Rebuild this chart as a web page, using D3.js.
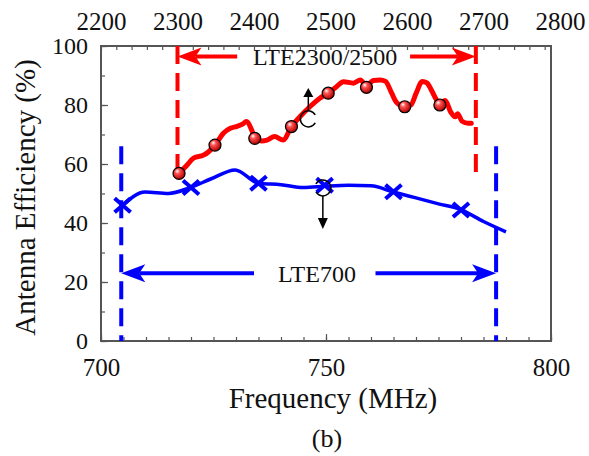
<!DOCTYPE html>
<html>
<head>
<meta charset="utf-8">
<script src="https://cdn.jsdelivr.net/npm/d3@7"></script>
<style>
  body { margin: 0; background: #fff; }
  text { font-family: "Liberation Serif", "Times New Roman", serif; fill: #111; }
</style>
</head>
<body>
<svg id="chart" width="589" height="456"></svg>
<script>
// LTE700 branch, read on the bottom axis (MHz)
const lowFreq = [704.8, 709.8, 715, 719.8, 724.5, 729.8, 735, 740, 745, 750, 755, 760, 765, 770, 775, 780, 785, 790];
const lowEff = [46, 50.5, 50, 52, 55, 58, 53.5, 53, 52, 52.5, 52.8, 52.6, 50.5, 48.5, 46.5, 44.5, 40.5, 37];
const lowMarkFreq = [704.8, 720, 735, 749.7, 765, 780];
const lowMarkEff = [46, 52, 53.5, 52.8, 50.6, 44.4];

// LTE2300/2500 branch, read on the top axis (MHz)
const highFreq = [2302, 2312, 2321, 2334, 2340, 2349, 2360, 2369, 2377, 2385, 2390, 2397, 2401, 2410, 2417,
  2427, 2438, 2449, 2460, 2473, 2486, 2497, 2507, 2517, 2530, 2539, 2547, 2556, 2565, 2572, 2580, 2586,
  2597, 2605, 2612, 2620, 2626, 2632, 2638, 2643, 2650, 2657, 2663, 2666, 2672, 2680, 2684];
const highEff = [56.8, 59.5, 62, 63, 64, 66.4, 70.4, 72.1, 72.7, 73.5, 74.4, 71.5, 68.7, 67.8, 68.1,
  69.3, 68.1, 72.7, 76, 79.4, 82.3, 84, 86, 87.9, 87.4, 88.5, 86.5, 88.3, 88.5, 88, 84, 81,
  79.4, 80, 84, 88, 87.5, 85, 82, 80.5, 81.5, 77.7, 76, 77, 74.5, 73.8, 73.8];
const highMarkFreq = [2302, 2349, 2401, 2449, 2497, 2547, 2597, 2643];
const highMarkEff = [56.8, 66.4, 68.7, 72.7, 84, 86, 79.4, 80];

// band edges, arrows and labels
const lowBand = [704.5, 787.8];
const lowBandSpan = [0, 66];
const lowArrowFrom = [734, 761];
const lowArrowLevel = 23;
const lowLabel = { text: 'LTE700', freq: 748, eff: 23 };

const highBand = [2300, 2690];
const highBandSpan = [57, 100];
const highArrowFrom = [2378, 2604];
const highArrowLevel = 96.4;
const highLabel = { text: 'LTE2300/2500', freq: 2493, eff: 96.4 };

// tick labels
const bottomTicks = [700, 750, 800];
const topTicks = [2200, 2300, 2400, 2500, 2600, 2700, 2800];
const leftTicks = [0, 20, 40, 60, 80, 100];

const margin = { left: 101, right: 551, top: 46, bottom: 341 };

const $svg = d3.select('#chart');

const x = d3.scaleLinear().domain([700, 800]).range([margin.left, margin.right]);
const xTop = d3.scaleLinear().domain([2200, 2800]).range([margin.left, 560]);
const y = d3.scaleLinear().domain([0, 100]).range([margin.bottom, margin.top]);

const axisColor = '#555';
const plain = d3.format('d');

// sphere gradient for the red markers
const $defs = $svg.append('defs');
const grad = $defs.append('radialGradient')
  .attr('id', 'ball')
  .attr('cx', '40%').attr('cy', '40%').attr('r', '60%')
  .attr('fx', '35%').attr('fy', '30%');
grad.append('stop').attr('offset', '0%').attr('stop-color', '#fff');
grad.append('stop').attr('offset', '35%').attr('stop-color', '#ff5050');
grad.append('stop').attr('offset', '100%').attr('stop-color', '#b00000');

// axes
const styleAxis = g => {
  g.select('.domain').remove();
  g.selectAll('line').attr('stroke', axisColor).attr('stroke-width', 1.2);
  g.selectAll('text')
    .attr('font-family', '"Liberation Serif", "Times New Roman", serif')
    .attr('fill', '#111');
};

$svg.append('g')
  .attr('transform', `translate(0,${margin.bottom})`)
  .call(d3.axisBottom(x).tickValues(d3.range(700, 801, 5)).tickSize(-4).tickFormat(''))
  .call(styleAxis);
$svg.append('g')
  .attr('transform', `translate(0,${margin.bottom})`)
  .call(d3.axisBottom(x).tickValues(bottomTicks).tickSize(-7).tickPadding(17).tickFormat(plain))
  .call(styleAxis)
  .selectAll('text').attr('font-size', 25);

$svg.append('g')
  .attr('transform', `translate(${margin.left},0)`)
  .call(d3.axisLeft(y).tickValues(d3.range(0, 101, 10)).tickSize(-4).tickFormat(''))
  .call(styleAxis);
$svg.append('g')
  .attr('transform', `translate(${margin.left},0)`)
  .call(d3.axisLeft(y).tickValues(leftTicks).tickSize(-7).tickPadding(13).tickFormat(plain))
  .call(styleAxis)
  .selectAll('text').attr('font-size', 24);

$svg.append('g')
  .attr('transform', `translate(0,${margin.top})`)
  .call(d3.axisTop(xTop).tickValues(d3.range(2200, 2790, 20)).tickSize(-4).tickFormat(''))
  .call(styleAxis);
$svg.append('g')
  .attr('transform', `translate(0,${margin.top})`)
  .call(d3.axisTop(xTop).tickValues(topTicks).tickSize(0).tickPadding(16).tickFormat(plain))
  .call(styleAxis)
  .selectAll('text').attr('font-size', 25);

$svg.append('rect')
  .attr('x', margin.left)
  .attr('y', margin.top)
  .attr('width', margin.right - margin.left)
  .attr('height', margin.bottom - margin.top)
  .attr('fill', 'none')
  .attr('stroke', axisColor)
  .attr('stroke-width', 2);

// axis titles
$svg.append('text')
  .attr('transform', `translate(35,${(margin.top + margin.bottom) / 2 + 4}) rotate(-90)`)
  .attr('text-anchor', 'middle')
  .attr('font-size', 29)
  .text('Antenna Efficiency (%)');
$svg.append('text')
  .attr('x', 333).attr('y', 408)
  .attr('text-anchor', 'middle')
  .attr('font-size', 29)
  .text('Frequency (MHz)');
$svg.append('text')
  .attr('x', 327).attr('y', 447)
  .attr('text-anchor', 'middle')
  .attr('font-size', 26)
  .text('(b)');

// band edges
const dashed = (xs, span, color) => {
  $svg.append('g')
    .selectAll('line')
    .data(xs)
    .join('line')
    .attr('x1', d => d).attr('x2', d => d)
    .attr('y1', y(span[1])).attr('y2', y(span[0]))
    .attr('stroke', color)
    .attr('stroke-width', 4)
    .attr('stroke-dasharray', '18,9');
};
dashed(lowBand.map(x), lowBandSpan, '#0000ff');
dashed(highBand.map(xTop), highBandSpan, '#ff0000');

// band arrows
const arrowHead = (tipX, tipY, dir, color) => {
  const L = 24, H = 9;
  const p = d3.path();
  p.moveTo(tipX, tipY);
  p.lineTo(tipX - dir * L, tipY - H);
  p.lineTo(tipX - dir * L * 0.75, tipY);
  p.lineTo(tipX - dir * L, tipY + H);
  p.closePath();
  $svg.append('path').attr('d', p.toString()).attr('fill', color);
};
const bandArrows = (scale, band, from, level, color) => {
  [0, 1].forEach(i => {
    const tip = scale(band[i]);
    const start = scale(from[i]);
    const dir = i === 0 ? -1 : 1;
    $svg.append('line')
      .attr('x1', start).attr('x2', tip - dir * 18)
      .attr('y1', y(level)).attr('y2', y(level))
      .attr('stroke', color)
      .attr('stroke-width', 4);
    arrowHead(tip, y(level), dir, color);
  });
};
bandArrows(x, lowBand, lowArrowFrom, lowArrowLevel, '#0000ff');
bandArrows(xTop, highBand, highArrowFrom, highArrowLevel, '#ff0000');

$svg.append('text')
  .attr('x', x(lowLabel.freq)).attr('y', y(lowLabel.eff))
  .attr('dy', '0.35em')
  .attr('text-anchor', 'middle')
  .attr('font-size', 24)
  .text(lowLabel.text);
$svg.append('text')
  .attr('x', xTop(highLabel.freq)).attr('y', y(highLabel.eff))
  .attr('dy', '0.35em')
  .attr('text-anchor', 'middle')
  .attr('font-size', 24)
  .text(highLabel.text);

// curves
const lowLine = d3.line()
  .x((d, i) => x(lowFreq[i]))
  .y(d => y(d))
  .curve(d3.curveMonotoneX);
$svg.append('path')
  .attr('d', lowLine(lowEff))
  .attr('fill', 'none')
  .attr('stroke', '#0000ff')
  .attr('stroke-width', 3.5)
  .attr('stroke-linejoin', 'round');

const highLine = d3.line()
  .x((d, i) => xTop(highFreq[i]))
  .y(d => y(d))
  .curve(d3.curveMonotoneX);
$svg.append('path')
  .attr('d', highLine(highEff))
  .attr('fill', 'none')
  .attr('stroke', '#ff0000')
  .attr('stroke-width', 5)
  .attr('stroke-linejoin', 'round')
  .attr('stroke-linecap', 'round');

// markers
$svg.append('g')
  .selectAll('path')
  .data(lowMarkEff)
  .join('path')
  .attr('d', (d, i) => {
    const cx = x(lowMarkFreq[i]), cy = y(d);
    return `M${cx - 8},${cy - 7}L${cx + 8},${cy + 7}M${cx - 8},${cy + 7}L${cx + 8},${cy - 7}`;
  })
  .attr('stroke', '#0000ff')
  .attr('stroke-width', 4);

$svg.append('g')
  .selectAll('circle')
  .data(highMarkEff)
  .join('circle')
  .attr('cx', (d, i) => xTop(highMarkFreq[i]))
  .attr('cy', d => y(d))
  .attr('r', 6)
  .attr('fill', 'url(#ball)')
  .attr('stroke', '#000')
  .attr('stroke-width', 1.2);

// curve pointers: which axis each curve belongs to
const pointer = (cx, cy, r, open, tipY) => {
  const a0 = open === 'right' ? Math.PI / 6 : -5 * Math.PI / 6;
  const arc = d3.arc()
    .innerRadius(r).outerRadius(r)
    .startAngle(a0 + Math.PI / 2)
    .endAngle(a0 + Math.PI / 2 + 5 * Math.PI / 3);
  $svg.append('path')
    .attr('transform', `translate(${cx},${cy})`)
    .attr('d', arc())
    .attr('fill', 'none')
    .attr('stroke', '#000')
    .attr('stroke-width', 1.5);
  const up = tipY < cy;
  const baseY = up ? cy - r : cy + r;
  const headY = up ? tipY + 9 : tipY - 11;
  $svg.append('line')
    .attr('x1', cx).attr('x2', cx)
    .attr('y1', baseY).attr('y2', headY)
    .attr('stroke', '#000')
    .attr('stroke-width', 1.5);
  $svg.append('path')
    .attr('d', `M${cx},${tipY}L${cx - 5},${headY}L${cx + 5},${headY}Z`)
    .attr('fill', '#000');
};
pointer(xTop(2471), y(75.3), 8, 'right', y(85.8));
pointer(x(749.3), y(51.9), 8, 'left', y(38));
</script>
</body>
</html>
